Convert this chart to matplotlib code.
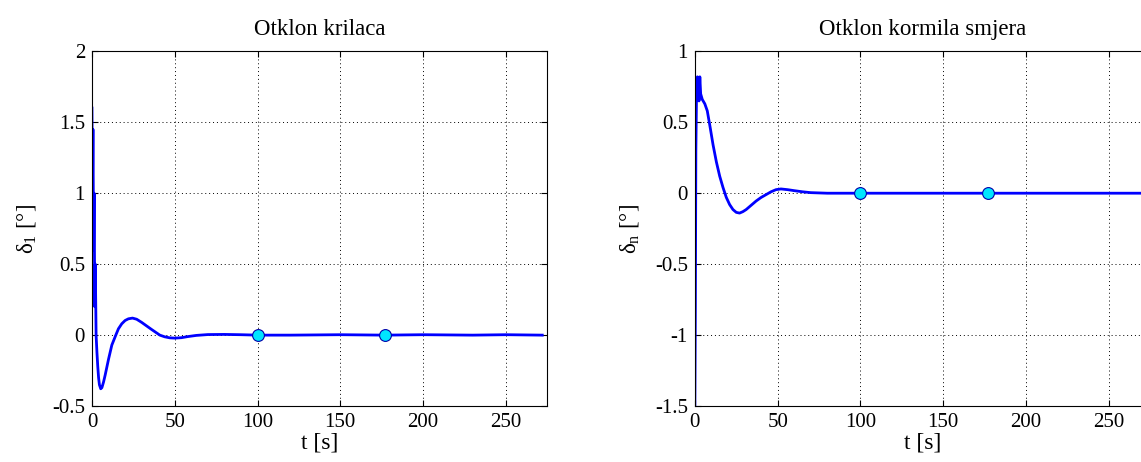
import matplotlib.pyplot as plt

# otklon krilaca (aileron deflection)
t_l = [0, 0.3, 0.6, 1.0, 1.3, 1.7, 2.0, 2.5, 3, 3.5, 4, 4.5, 5.3, 6, 7, 8, 10, 12, 14.4, 16, 18, 20,
       22, 24.5, 27, 30, 33, 36, 41, 44, 47, 50, 54, 58, 63, 70, 80, 90, 100, 120, 150, 177, 200,
       230, 250, 272]
d_l = [1.6, 1.0, 1.45, 0.6, 1.0, 0.2, 0.5, 0.0, -0.12, -0.22, -0.3, -0.35, -0.378, -0.37, -0.33,
       -0.28, -0.17, -0.07, 0.0, 0.045, 0.08, 0.103, 0.115, 0.12, 0.112, 0.09, 0.065, 0.04, 0.0,
       -0.012, -0.019, -0.021, -0.018, -0.01, -0.002, 0.004, 0.005, 0.003, 0.0, 0.0, 0.003, 0.0,
       0.003, 0.0, 0.003, 0.0]

# otklon kormila smjera (rudder deflection)
t_n = [0, 0.3, 0.6, 1.0, 1.5, 2, 2.5, 3, 3.5, 4.5, 6, 7.5, 9, 11, 13, 15, 17, 19, 21, 23, 25, 27,
       29, 31, 34, 37, 40, 43, 46, 49, 52, 56, 60, 65, 70, 80, 100, 177, 272]
d_n = [-1.5, -0.8, 0.3, 0.7, 0.82, 0.8, 0.65, 0.82, 0.7, 0.66, 0.63, 0.58, 0.48, 0.34, 0.22, 0.12,
       0.04, -0.03, -0.08, -0.115, -0.135, -0.14, -0.13, -0.115, -0.085, -0.055, -0.03, -0.01, 0.01,
       0.025, 0.03, 0.025, 0.018, 0.01, 0.004, 0.0, 0.0, 0.0, 0.0]

mark_t = [100, 177]
mark_l = [0.0, 0.0]
mark_n = [0.0, 0.0]

xticks = [0, 50, 100, 150, 200, 250]
yticks_l = [-0.5, 0, 0.5, 1, 1.5, 2]
yticks_n = [-1.5, -1, -0.5, 0, 0.5, 1]

plt.rcParams['font.family'] = ['Liberation Serif', 'DejaVu Serif']
plt.rcParams['mathtext.fontset'] = 'custom'
plt.rcParams['mathtext.rm'] = 'Liberation Serif'
plt.rcParams['mathtext.it'] = 'Liberation Serif:italic'

fig = plt.figure(figsize=(11.41, 4.62), dpi=100)
ax1 = fig.add_axes([0.0806, 0.121, 0.399, 0.768])
ax2 = fig.add_axes([0.609, 0.121, 0.399, 0.768])

panels = [
    (ax1, t_l, d_l, mark_l, yticks_l, 'Otklon krilaca', 'δ$_{1}$ [°]'),
    (ax2, t_n, d_n, mark_n, yticks_n, 'Otklon kormila smjera', 'δ$_{\\mathrm{n}}$ [°]'),
]

for ax, t, d, m, yt, title, ylab in panels:
    ax.plot(t, d, color='#0000ff', lw=2)
    ax.plot(mark_t, m, 'o', color='#00e5ff', mec='#0000aa', ms=8.5, mew=0.8)
    ax.set_xlim(0, 275)
    ax.set_ylim(yt[0], yt[-1])
    ax.set_xticks(xticks)
    ax.set_yticks(yt)
    ax.set_yticklabels([f'{v:g}' for v in yt])
    ax.grid(True, color='black', linestyle=(0, (1, 3)), linewidth=0.7)
    ax.tick_params(direction='in', length=4, top=True, right=True, labelsize=15, pad=5)
    ax.set_title(title, fontsize=16.5, pad=12)
    ax.set_xlabel('t [s]', fontsize=17, labelpad=0)
    ax.set_ylabel(ylab, fontsize=16.5, labelpad=10)

fig.savefig('out.png', dpi=100)
